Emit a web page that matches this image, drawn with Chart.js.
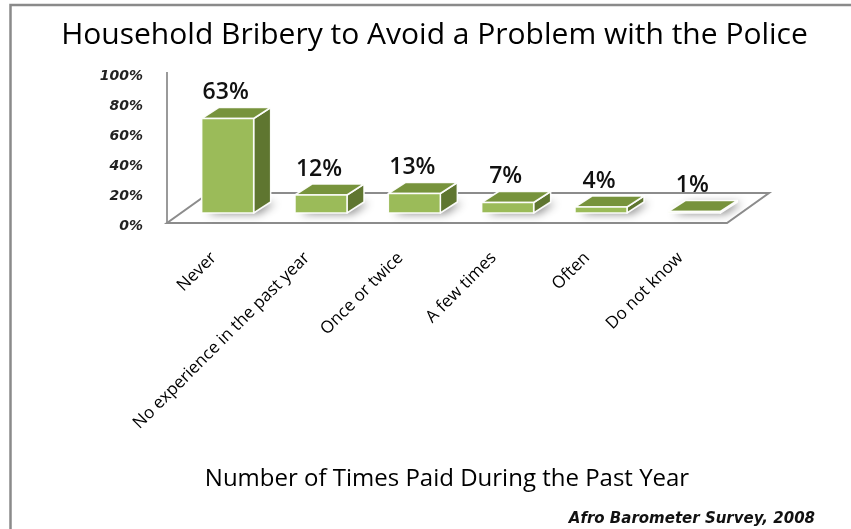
<!DOCTYPE html>
<html>
<head>
<meta charset="utf-8">
<script src="https://cdn.jsdelivr.net/npm/chart.js@4.4.1/dist/chart.umd.min.js"></script>
<style>
  body { margin: 0; background: #fff; }
  canvas { display: block; }
</style>
</head>
<body>
<canvas id="bribery" width="851" height="529"></canvas>
<script>
// Survey answers and their share of households (%)
const categories = ['Never', 'No experience in the past year', 'Once or twice', 'A few times', 'Often', 'Do not know'];
const shares = [63, 12, 13, 7, 4, 1];
const yTicks = [0, 20, 40, 60, 80, 100];

const colors = {
    front: '#9bbb59',
    top: '#77933c',
    side: '#5f7630',
    floorLine: '#8c8c8c',
    frame: '#8a8a8a'
};

// offsets for the fake 3D look: floor depth, bar position on the floor, bar depth
const floorDepth = { x: 42, y: -30 };
const barShift = { x: 14, y: -10 };
const barDepth = { x: 17, y: -11 };

const bars3d = {
    id: 'bars3d',
    beforeDraw(chart) {
        const ctx = chart.ctx;
        ctx.save();
        ctx.strokeStyle = colors.frame;
        ctx.lineWidth = 2.5;
        ctx.beginPath();
        ctx.moveTo(10.5, chart.height);
        ctx.lineTo(10.5, 5);
        ctx.lineTo(chart.width, 5);
        ctx.stroke();
        ctx.restore();
    },
    beforeDatasetsDraw(chart) {
        const ctx = chart.ctx;
        const a = chart.chartArea;
        ctx.save();
        ctx.fillStyle = '#fff';
        ctx.strokeStyle = colors.floorLine;
        ctx.lineWidth = 2;
        ctx.beginPath();
        ctx.moveTo(a.left, a.bottom);
        ctx.lineTo(a.right, a.bottom);
        ctx.lineTo(a.right + floorDepth.x, a.bottom + floorDepth.y);
        ctx.lineTo(a.left + floorDepth.x, a.bottom + floorDepth.y);
        ctx.closePath();
        ctx.fill();
        ctx.stroke();
        ctx.restore();
    },
    afterDatasetsDraw(chart) {
        const ctx = chart.ctx;
        const meta = chart.getDatasetMeta(0);
        ctx.save();
        meta.data.forEach((el, i) => {
            const l = el.x - el.width / 2 + barShift.x;
            const r = el.x + el.width / 2 + barShift.x;
            const t = el.y + barShift.y;
            const b = el.base + barShift.y;
            const dx = barDepth.x, dy = barDepth.y;

            // soft shadow on the floor
            ctx.save();
            ctx.shadowColor = 'rgba(0,0,0,0.45)';
            ctx.shadowBlur = 9;
            ctx.shadowOffsetX = 5;
            ctx.shadowOffsetY = 1;
            ctx.fillStyle = '#fff';
            ctx.beginPath();
            ctx.moveTo(l, b);
            ctx.lineTo(r, b);
            ctx.lineTo(r + dx, b + dy);
            ctx.lineTo(l + dx, b + dy);
            ctx.closePath();
            ctx.fill();
            ctx.restore();

            ctx.strokeStyle = 'rgba(255,255,255,0.95)';
            ctx.lineWidth = 1.5;
            ctx.lineJoin = 'round';

            // side
            ctx.fillStyle = colors.side;
            ctx.beginPath();
            ctx.moveTo(r, t);
            ctx.lineTo(r + dx, t + dy);
            ctx.lineTo(r + dx, b + dy);
            ctx.lineTo(r, b);
            ctx.closePath();
            ctx.fill();
            ctx.stroke();

            // top
            ctx.fillStyle = colors.top;
            ctx.beginPath();
            ctx.moveTo(l, t);
            ctx.lineTo(r, t);
            ctx.lineTo(r + dx, t + dy);
            ctx.lineTo(l + dx, t + dy);
            ctx.closePath();
            ctx.fill();
            ctx.stroke();

            // front
            ctx.fillStyle = colors.front;
            ctx.fillRect(l, t, r - l, b - t);
            ctx.strokeRect(l, t, r - l, b - t);

            // value label
            ctx.fillStyle = '#111';
            ctx.font = '600 23px "Open Sans"';
            ctx.textAlign = 'center';
            ctx.textBaseline = 'middle';
            ctx.fillText(shares[i] + '%', (l + r) / 2 - 2, t - 26);
        });
        ctx.restore();
    },
    afterDraw(chart) {
        const ctx = chart.ctx;
        ctx.save();
        ctx.fillStyle = '#111';
        ctx.font = 'italic bold 15px "DejaVu Sans"';
        ctx.textAlign = 'right';
        ctx.textBaseline = 'middle';
        ctx.fillText('Afro Barometer Survey, 2008', 815, 519);
        ctx.restore();
    }
};

new Chart(document.getElementById('bribery'), {
    type: 'bar',
    data: {
        labels: categories,
        datasets: [{
            data: shares,
            yAxisID: 'y',
            backgroundColor: 'rgba(0,0,0,0)',
            borderWidth: 0,
            barPercentage: 0.557,
            categoryPercentage: 1
        }]
    },
    options: {
        responsive: false,
        animation: false,
        layout: {
            padding: { left: 18, right: 0, top: 0, bottom: 35 }
        },
        plugins: {
            legend: { display: false },
            tooltip: { enabled: false },
            title: {
                display: true,
                text: 'Household Bribery to Avoid a Problem with the Police',
                color: '#000',
                font: { family: 'Open Sans', size: 30, weight: '500' },
                padding: { top: 17, bottom: 20 }
            }
        },
        scales: {
            x: {
                grid: { display: false, drawTicks: false },
                border: { display: false },
                ticks: {
                    minRotation: 45,
                    maxRotation: 45,
                    padding: 25,
                    color: '#000',
                    font: { family: 'Open Sans', size: 17, weight: '500' }
                },
                title: {
                    display: true,
                    text: 'Number of Times Paid During the Past Year',
                    color: '#000',
                    font: { family: 'Open Sans', size: 24, weight: '500' },
                    padding: { top: 0, bottom: 0 }
                },
                afterFit(scale) { scale.height = 271; }
            },
            y: {
                min: 0,
                max: 100,
                afterBuildTicks(scale) {
                    scale.ticks = yTicks.map(v => ({ value: v }));
                },
                ticks: {
                    callback: v => v + '%',
                    padding: 24,
                    labelOffset: 3,
                    color: '#222',
                    font: { family: 'DejaVu Sans', size: 14, style: 'italic', weight: 'bold' }
                },
                grid: { display: false, drawTicks: false },
                border: { display: true, color: '#9a9a9a', width: 2 },
                afterFit(scale) { scale.width = 149; }
            },
            y2: {
                position: 'right',
                grid: { display: false, drawTicks: false },
                border: { display: false },
                ticks: { display: false },
                afterFit(scale) { scale.width = 124; }
            }
        }
    },
    plugins: [bars3d]
});
</script>
</body>
</html>
